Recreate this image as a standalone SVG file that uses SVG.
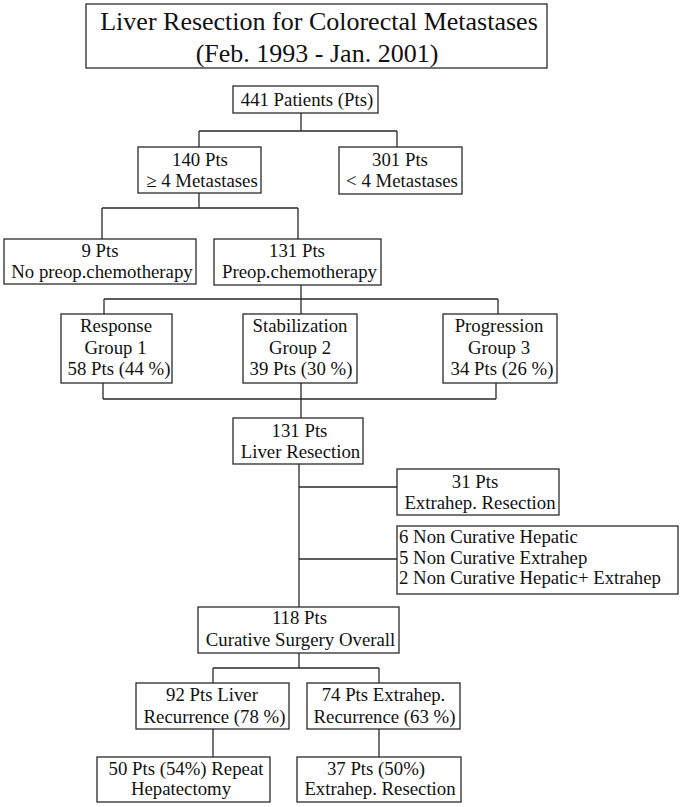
<svg xmlns="http://www.w3.org/2000/svg" width="683" height="807" viewBox="0 0 683 807">
<style>
.bg{fill:#ffffff}
.box{fill:#ffffff;stroke:#2a2a2a;stroke-width:1.3}
.ln{fill:none;stroke:#2a2a2a;stroke-width:1.3}
text{font-family:"Liberation Serif",Tinos,"Times New Roman",Times,"DejaVu Serif",serif;fill:#111;font-size:18.8px}
.c{text-anchor:middle}
.t{font-size:26px}
</style>
<rect class="bg" x="0" y="0" width="683" height="807"/>
<g id="connectors">
<path class="ln" d="M301,113V131M199,131H397M199,131V147M397,131V147"/>
<path class="ln" d="M199,193V208M102,208H298M102,208V239M298,208V239"/>
<path class="ln" d="M301,285V299M104,299H498M104,299V314M301,299V314M498,299V314"/>
<path class="ln" d="M103,383V399M496,383V399M103,399H496M301,383V418"/>
<path class="ln" d="M299,464V607M299,487H397M299,559H397"/>
<path class="ln" d="M299,653V668M213,668H379M213,668V683M379,668V683"/>
<path class="ln" d="M213,729V757M379,729V757"/>
</g>
<g id="title">
<rect class="box" x="86" y="4" width="461" height="64"/>
<text class="c t" x="319" y="30">Liver Resection for Colorectal Metastases</text>
<text class="c t" x="317" y="62">(Feb. 1993 - Jan. 2001)</text>
</g>
<g id="n441">
<rect class="box" x="233" y="86" width="145" height="27"/>
<text class="c" x="307" y="106">441 Patients (Pts)</text>
</g>
<g id="n140">
<rect class="box" x="138" y="147" width="123" height="46"/>
<text class="c" x="200" y="166">140 Pts</text>
<text class="c" x="202" y="187">≥ 4 Metastases</text>
</g>
<g id="n301">
<rect class="box" x="339" y="147" width="123" height="47"/>
<text class="c" x="400" y="166">301 Pts</text>
<text class="c" x="402" y="187">&lt; 4 Metastases</text>
</g>
<g id="n9">
<rect class="box" x="4" y="239" width="192" height="45"/>
<text class="c" x="100" y="257">9 Pts</text>
<text class="c" x="102" y="278">No preop.chemotherapy</text>
</g>
<g id="n131chemo">
<rect class="box" x="214" y="239" width="167" height="46"/>
<text class="c" x="297" y="257">131 Pts</text>
<text class="c" x="299.5" y="278">Preop.chemotherapy</text>
</g>
<g id="response">
<rect class="box" x="61" y="314" width="111" height="69"/>
<text class="c" x="116" y="332">Response</text>
<text class="c" x="115.5" y="353.5">Group 1</text>
<text class="c" x="119" y="375">58 Pts (44 %)</text>
</g>
<g id="stabilization">
<rect class="box" x="243" y="314" width="114" height="69"/>
<text class="c" x="300" y="332">Stabilization</text>
<text class="c" x="300" y="353.5">Group 2</text>
<text class="c" x="301" y="375">39 Pts (30 %)</text>
</g>
<g id="progression">
<rect class="box" x="443" y="314" width="114" height="69"/>
<text class="c" x="499" y="332">Progression</text>
<text class="c" x="499" y="353.5">Group 3</text>
<text class="c" x="502" y="375">34 Pts (26 %)</text>
</g>
<g id="n131resection">
<rect class="box" x="233" y="418" width="130" height="46"/>
<text class="c" x="299.5" y="437">131 Pts</text>
<text class="c" x="300.5" y="458">Liver Resection</text>
</g>
<g id="n31">
<rect class="box" x="397" y="469" width="162" height="46"/>
<text class="c" x="475" y="488">31 Pts</text>
<text class="c" x="480" y="509">Extrahep. Resection</text>
</g>
<g id="noncurative">
<rect class="box" x="397" y="526" width="281" height="68"/>
<text x="399" y="543">6 Non Curative Hepatic</text>
<text x="399" y="563.5">5 Non Curative Extrahep</text>
<text x="399" y="584">2 Non Curative Hepatic+ Extrahep</text>
</g>
<g id="n118">
<rect class="box" x="198" y="607" width="201" height="46"/>
<text class="c" x="299.5" y="624">118 Pts</text>
<text class="c" x="300.5" y="646">Curative Surgery Overall</text>
</g>
<g id="n92">
<rect class="box" x="136" y="683" width="153" height="46"/>
<text class="c" x="212" y="701">92 Pts Liver</text>
<text class="c" x="214.5" y="723">Recurrence (78 %)</text>
</g>
<g id="n74">
<rect class="box" x="307" y="683" width="153" height="46"/>
<text class="c" x="383.5" y="701">74 Pts Extrahep.</text>
<text class="c" x="384.5" y="723">Recurrence (63 %)</text>
</g>
<g id="n50">
<rect class="box" x="97" y="757" width="173" height="45"/>
<text class="c" x="186" y="775">50 Pts (54%) Repeat</text>
<text class="c" x="181" y="795">Hepatectomy</text>
</g>
<g id="n37">
<rect class="box" x="297" y="757" width="164" height="45"/>
<text class="c" x="376" y="775">37 Pts (50%)</text>
<text class="c" x="380" y="795">Extrahep. Resection</text>
</g>
</svg>
